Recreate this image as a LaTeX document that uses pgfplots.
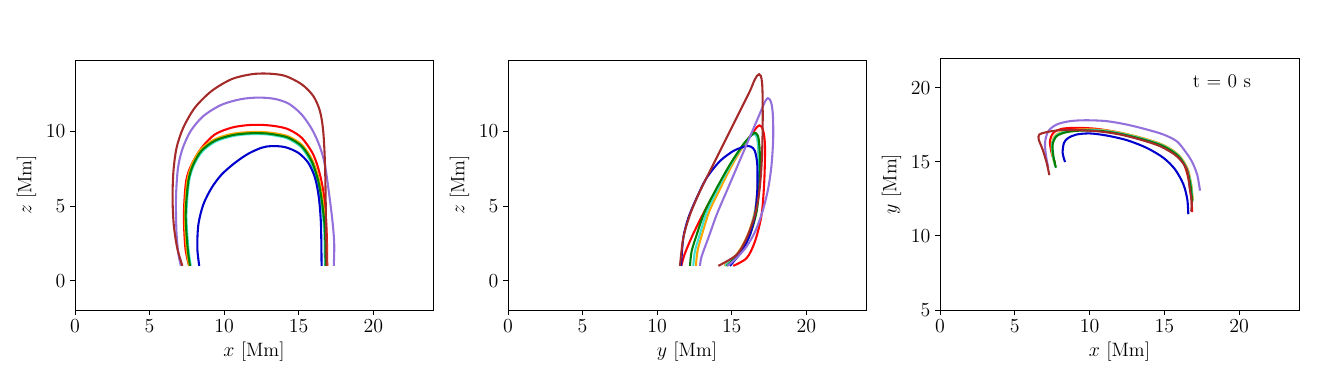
\documentclass[border=0pt]{standalone}
\usepackage{pgfplots}
\pgfplotsset{compat=1.18}
\definecolor{cbrown}{HTML}{A52A2A}
\definecolor{cpurple}{HTML}{9370DB}
\definecolor{cred}{HTML}{FF0000}
\definecolor{corange}{HTML}{FFA500}
\definecolor{cturq}{HTML}{40E0D0}
\definecolor{cgreen}{HTML}{008000}
\definecolor{cblue}{HTML}{0000CD}

\pgfplotsset{panel/.style={scale only axis,anchor=south west,
  width=3.58in,height=2.5in,xmin=0,xmax=24,xtick={0,5,10,15,20},
  tick align=outside,xtick pos=left,ytick pos=left,major tick length=3.5pt,
  tick style={black,line width=0.6pt},axis line style={line width=0.6pt},
  ticklabel style={font=\fontsize{14}{16}\selectfont},
  label style={font=\fontsize{14}{16}\selectfont},
  every axis plot/.append style={line width=1.5pt,smooth,no marks}}}

\begin{document}
\begin{tikzpicture}
\path[use as bounding box] (0,0) rectangle (13.2in,3.7in);

% x-z projection
\begin{axis}[panel,at={(0.75in,0.60in)},ymin=-1.95,ymax=14.75,ytick={0,5,10},
  xlabel={$x$ [Mm]},ylabel={$z$ [Mm]}]
\addplot[cred] coordinates {(7.65,1.0) (7.4,2.19) (7.3,4.42) (7.45,6.66) (7.82,7.77) (8.49,8.89) (9.38,9.78) (10.5,10.23) (11.6,10.4) (12.62,10.41) (13.5,10.32) (14.3,10.12) (15.19,9.56) (15.97,8.44) (16.42,7.1) (16.71,5.54) (16.87,3.31) (16.91,1.0)};
\addplot[corange] coordinates {(7.65,1.0) (7.48,2.19) (7.36,4.42) (7.53,6.66) (7.86,7.8) (8.42,8.76) (9.32,9.43) (10.45,9.8) (11.6,9.93) (12.73,9.93) (13.55,9.83) (14.35,9.63) (15.24,9.06) (15.92,8.04) (16.37,6.68) (16.64,5.1) (16.82,3.31) (16.86,1.0)};
\addplot[cturq] coordinates {(7.76,1.0) (7.6,2.19) (7.47,4.42) (7.65,6.66) (7.98,7.74) (8.54,8.64) (9.42,9.3) (10.54,9.66) (11.6,9.79) (12.73,9.79) (13.46,9.69) (14.26,9.5) (15.14,8.95) (15.8,7.96) (16.26,6.64) (16.53,5.08) (16.71,3.31) (16.75,1.0)};
\addplot[cgreen] coordinates {(7.71,1.0) (7.55,2.19) (7.42,4.42) (7.6,6.66) (7.93,7.77) (8.49,8.7) (9.38,9.36) (10.5,9.72) (11.6,9.85) (12.73,9.85) (13.5,9.75) (14.3,9.56) (15.19,9.0) (15.86,8.0) (16.31,6.66) (16.58,5.09) (16.76,3.31) (16.8,1.0)};
\addplot[cblue] coordinates {(8.33,1.0) (8.2,2.19) (8.27,3.75) (8.6,5.09) (9.16,6.21) (9.83,7.1) (10.72,7.88) (11.62,8.49) (12.51,8.89) (13.18,9.0) (14.08,8.93) (14.97,8.55) (15.64,7.88) (16.09,6.88) (16.35,5.54) (16.49,3.75) (16.53,1.0)};
\addplot[cpurple] coordinates {(7.1,1.0) (6.93,1.8) (6.8,3.31) (6.77,5.54) (6.9,7.5) (7.2,8.8) (7.75,10.0) (8.6,11.0) (9.8,11.75) (11.1,12.13) (12.29,12.24) (13.4,12.15) (14.35,11.82) (15.2,11.1) (15.9,10.1) (16.4,9.0) (16.75,7.77) (17.05,5.7) (17.28,3.8) (17.38,2.4) (17.35,1.0)};
\addplot[cbrown] coordinates {(7.2,1.0) (6.85,2.2) (6.62,3.75) (6.54,5.54) (6.6,7.33) (6.81,8.89) (7.26,10.23) (8.04,11.57) (9.16,12.68) (10.5,13.47) (11.84,13.8) (12.96,13.84) (14.08,13.69) (15.19,13.13) (15.97,12.35) (16.42,11.34) (16.64,10.0) (16.76,7.77) (16.82,4.42) (16.87,1.0)};
\end{axis}

% y-z projection
\begin{axis}[panel,at={(5.08in,0.60in)},ymin=-1.95,ymax=14.75,ytick={0,5,10},
  xlabel={$y$ [Mm]},ylabel={$z$ [Mm]}]
\addplot[cred] coordinates {(15.1,1.0) (16.0,1.52) (16.56,2.64) (17.0,4.42) (17.18,6.66) (17.23,8.89) (17.15,9.85) (17.0,10.3) (16.85,10.38) (16.68,10.25) (16.45,9.95) (15.9,9.2) (15.0,7.85) (14.1,6.3) (13.2,4.7) (12.4,3.1) (11.85,1.8) (11.62,1.0)};
\addplot[corange] coordinates {(14.5,1.0) (15.4,1.86) (16.08,3.08) (16.55,4.65) (16.74,6.43) (16.8,8.22) (16.72,9.5) (16.55,9.88) (16.3,9.75) (15.76,9.0) (14.98,7.65) (14.22,6.15) (13.5,4.65) (13.0,3.08) (12.7,1.97) (12.6,1.0)};
\addplot[cturq] coordinates {(14.55,1.0) (15.45,1.86) (16.12,3.08) (16.57,4.65) (16.76,6.43) (16.8,8.22) (16.72,9.45) (16.52,9.8) (16.25,9.65) (15.72,9.0) (14.9,7.7) (14.1,6.2) (13.35,4.65) (12.85,3.08) (12.53,1.97) (12.42,1.0)};
\addplot[cgreen] coordinates {(14.66,1.0) (15.55,1.86) (16.22,3.08) (16.67,4.65) (16.85,6.43) (16.89,8.22) (16.8,9.5) (16.6,9.88) (16.35,9.75) (15.77,9.11) (14.88,7.77) (14.0,6.21) (13.2,4.65) (12.65,3.08) (12.31,1.97) (12.2,1.0)};
\addplot[cblue] coordinates {(14.88,1.0) (15.66,1.97) (16.22,3.08) (16.56,4.42) (16.71,5.99) (16.71,7.77) (16.55,8.67) (16.3,8.95) (16.0,9.0) (15.6,8.88) (15.1,8.67) (14.21,8.0) (13.32,6.88) (12.65,5.54) (12.09,4.2) (11.75,2.86) (11.6,1.0)};
\addplot[cpurple] coordinates {(14.7,1.0) (15.3,1.5) (16.0,2.3) (16.62,3.4) (17.11,4.8) (17.45,6.2) (17.67,7.77) (17.78,9.56) (17.76,11.0) (17.68,11.75) (17.55,12.12) (17.42,12.2) (17.28,12.05) (17.11,11.7) (16.67,10.67) (16.0,9.11) (15.33,7.55) (14.66,5.99) (13.99,4.42) (13.43,2.86) (12.98,1.63) (12.87,1.0)};
\addplot[cbrown] coordinates {(14.1,1.0) (15.33,1.74) (16.0,2.86) (16.56,4.42) (16.85,5.99) (17.0,7.77) (17.07,10.0) (17.07,12.24) (17.03,13.25) (16.95,13.68) (16.83,13.8) (16.7,13.7) (16.5,13.35) (16.22,12.68) (15.55,11.34) (14.66,9.56) (13.76,7.77) (12.87,5.99) (12.2,4.42) (11.75,2.86) (11.53,1.0)};
\end{axis}

% x-y projection
\begin{axis}[panel,at={(9.40in,0.60in)},width=3.59in,height=2.52in,ymin=5,ymax=22,ytick={5,10,15,20},
  xlabel={$x$ [Mm]},ylabel={$y$ [Mm]}]
\addplot[cred] coordinates {(7.69,14.93) (7.46,15.6) (7.35,16.39) (7.58,16.95) (8.13,17.22) (9.14,17.29) (10.47,17.22) (11.81,17.0) (13.15,16.68) (14.48,16.28) (15.6,15.72) (16.27,14.93) (16.6,13.9) (16.79,12.72) (16.86,11.6)};
\addplot[corange] coordinates {(7.7,14.7) (7.52,15.45) (7.47,16.22) (7.74,16.8) (8.42,17.08) (9.55,17.19) (10.9,17.14) (12.25,16.92) (13.6,16.58) (14.95,16.12) (15.97,15.44) (16.55,14.53) (16.8,13.45) (16.9,12.4)};
\addplot[cturq] coordinates {(7.72,14.65) (7.55,15.4) (7.5,16.2) (7.77,16.77) (8.45,17.04) (9.57,17.15) (10.91,17.1) (12.25,16.88) (13.6,16.54) (14.94,16.08) (15.95,15.41) (16.52,14.51) (16.78,13.42) (16.88,12.33)};
\addplot[cgreen] coordinates {(7.75,14.6) (7.58,15.38) (7.53,16.17) (7.8,16.73) (8.47,17.0) (9.58,17.11) (10.92,17.06) (12.25,16.84) (13.59,16.5) (14.93,16.05) (15.93,15.38) (16.49,14.49) (16.75,13.4) (16.86,12.27)};
\addplot[cblue] coordinates {(8.36,14.98) (8.2,15.6) (8.29,16.28) (8.58,16.61) (9.14,16.84) (10.03,16.91) (11.14,16.77) (12.48,16.46) (13.81,15.94) (14.93,15.27) (15.71,14.49) (16.27,13.48) (16.53,12.47) (16.6,11.46)};
\addplot[cpurple] coordinates {(7.24,14.6) (7.09,15.38) (7.02,16.28) (7.24,17.06) (7.8,17.51) (8.69,17.74) (9.8,17.8) (11.14,17.74) (12.48,17.51) (13.81,17.18) (14.93,16.84) (15.82,16.39) (16.38,15.72) (16.85,15.0) (17.2,14.1) (17.38,13.05)};
\addplot[cbrown] coordinates {(7.31,14.1) (7.13,14.93) (6.86,15.83) (6.6,16.5) (6.64,16.84) (7.13,17.0) (8.02,17.13) (9.36,17.13) (10.7,17.04) (12.03,16.84) (13.37,16.5) (14.71,16.05) (15.82,15.38) (16.49,14.49) (16.7,13.16) (16.83,12.27) (16.79,11.65)};
\node[font=\fontsize{14}{16}\selectfont] at (axis cs:18.85,20.4) {t = 0 s};
\end{axis}
\end{tikzpicture}
\end{document}
